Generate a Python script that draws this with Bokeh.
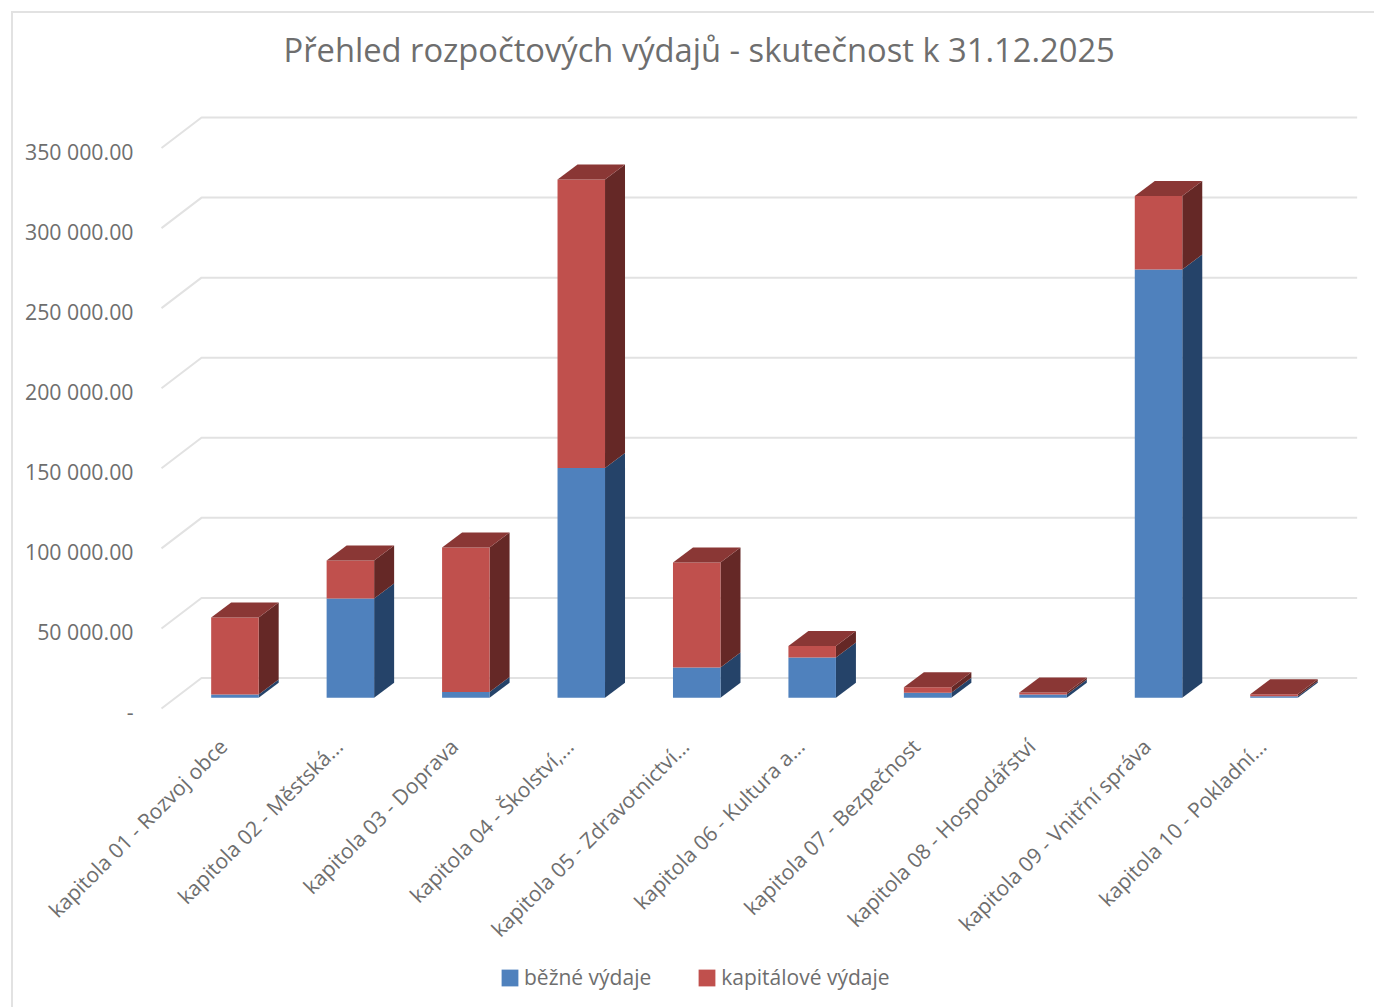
import math
from bokeh.embed import file_html
from bokeh.models import FixedTicker, Legend, LegendItem, LinearAxis, Range1d
from bokeh.plotting import figure
from bokeh.resources import INLINE

title_text = "Přehled rozpočtových výdajů - skutečnost k 31.12.2025"
categories = [
    "kapitola 01 - Rozvoj obce", "kapitola 02 - Městská...", "kapitola 03 - Doprava",
    "kapitola 04 - Školství,...", "kapitola 05 - Zdravotnictví...", "kapitola 06 - Kultura a...",
    "kapitola 07 - Bezpečnost", "kapitola 08 - Hospodářství", "kapitola 09 - Vnitřní správa",
    "kapitola 10 - Pokladní...",
]
bezne = [2100, 62000, 3600, 143500, 18900, 25200, 3100, 2100, 267400, 1000]
kapitalove = [48000, 23700, 90300, 180100, 65600, 7100, 3500, 1200, 45900, 1200]
y_ticks = [0, 50000, 100000, 150000, 200000, 250000, 300000, 350000]
y_labels = ["-", "50 000.00", "100 000.00", "150 000.00", "200 000.00", "250 000.00", "300 000.00", "350 000.00"]
series_names = ["běžné výdaje", "kapitálové výdaje"]

FONT = "Open Sans"
TXT = "#6e6e6e"
GRID = "#e2e2e2"
BLUE, BLUE_SIDE = "#4f81bd", "#254369"
RED, RED_SIDE, RED_TOP = "#c0504d", "#652826", "#8a3735"

# scale of the 3D projection
PX_X = 1 / 115.45
PX_Y = 50000 / 80.07
FRONT_Y = 3 * PX_Y          # front edge of the floor above the axis baseline
BAR_SHIFT_X = 15.7 * PX_X   # bars stand mid-depth on the floor
BAR_SHIFT_Y = 13.7 * PX_Y
BAR_W = 47.5 * PX_X
DEPTH_X = 20 * PX_X
DEPTH_Y = 15 * PX_Y
WALL_X = 40 * PX_X
WALL_Y = 30.5 * PX_Y

p = figure(
    frame_width=1361, frame_height=921, output_backend="svg", toolbar_location=None,
    x_range=Range1d(-0.5 - 148 * PX_X, -0.5 + 1213 * PX_X),
    y_range=Range1d(-296 * PX_Y, 625 * PX_Y),
    min_border_left=0, min_border_right=0, min_border_top=73, min_border_bottom=0,
    x_axis_type=None, y_axis_type=None,
    margin=(11, 0, 0, 11),
    styles={"border-top": f"2px solid {GRID}", "border-left": f"2px solid {GRID}", "box-sizing": "content-box"},
)
p.grid.visible = False
p.outline_line_color = None

# back wall gridlines with the floor/wall diagonals
x0 = -0.5
grid_xs, grid_ys = [], []
for t in y_ticks:
    yf = t + FRONT_Y
    grid_xs.append([x0, x0 + WALL_X, x0 + WALL_X + 10.01])
    grid_ys.append([yf, yf + WALL_Y, yf + WALL_Y])
p.multi_line(grid_xs, grid_ys, line_color=GRID, line_width=2)

bottoms_b = [BAR_SHIFT_Y] * len(bezne)
tops_b = [b + v for b, v in zip(bottoms_b, bezne)]
tops_r = [b + v for b, v in zip(tops_b, kapitalove)]
lefts = [i + BAR_SHIFT_X - BAR_W / 2 for i in range(len(bezne))]
rights = [l + BAR_W for l in lefts]


def side(bot, top):
    xs = [[r, r + DEPTH_X, r + DEPTH_X, r] for r in rights]
    ys = [[b, b + DEPTH_Y, t + DEPTH_Y, t] for b, t in zip(bot, top)]
    return xs, ys


xs, ys = side(bottoms_b, tops_b)
p.patches(xs, ys, fill_color=BLUE_SIDE, line_color=None)
r_blue = p.quad(left=lefts, right=rights, bottom=bottoms_b, top=tops_b, fill_color=BLUE, line_color=None)
xs, ys = side(tops_b, tops_r)
p.patches(xs, ys, fill_color=RED_SIDE, line_color=None)
r_red = p.quad(left=lefts, right=rights, bottom=tops_b, top=tops_r, fill_color=RED, line_color=None)
top_xs = [[l, r, r + DEPTH_X, l + DEPTH_X] for l, r in zip(lefts, rights)]
top_ys = [[t, t, t + DEPTH_Y, t + DEPTH_Y] for t in tops_r]
p.patches(top_xs, top_ys, fill_color=RED_TOP, line_color=None)

# axes
yax = LinearAxis(ticker=FixedTicker(ticks=y_ticks), major_label_overrides=dict(zip(y_ticks, y_labels)),
                 fixed_location=-0.5 - 6 * PX_X)
yax.axis_line_color = None
yax.major_tick_line_color = None
yax.minor_tick_line_color = None
yax.major_label_text_font = FONT
yax.major_label_text_font_size = "21.3px"
yax.major_label_text_color = TXT
yax.major_label_standoff = 16
p.add_layout(yax, "left")

TICK_SHIFT = 4 * PX_X
x_pos = [i + TICK_SHIFT for i in range(len(categories))]
xax = LinearAxis(ticker=FixedTicker(ticks=x_pos), major_label_overrides=dict(zip(x_pos, categories)), fixed_location=0)
xax.axis_line_color = None
xax.major_tick_line_color = None
xax.minor_tick_line_color = None
xax.major_label_text_font = FONT
xax.major_label_text_font_size = "21px"
xax.major_label_text_color = TXT
xax.major_label_orientation = math.pi / 4
xax.major_label_standoff = 25
p.add_layout(xax, "below")

# title
p.title.text = title_text
p.title.align = "left"
p.title.offset = 270
p.title.standoff = 25
p.title.vertical_align = "top"
p.title.text_font = FONT
p.title.text_font_size = "32.7px"
p.title.text_font_style = "normal"
p.title.text_color = TXT

legend = Legend(
    items=[LegendItem(label=series_names[0], renderers=[r_blue]), LegendItem(label=series_names[1], renderers=[r_red])],
    orientation="horizontal", location=(486, 16),
    background_fill_alpha=0, border_line_color=None, padding=0, margin=0,
    glyph_width=21, glyph_height=21, label_standoff=4, spacing=45,
    label_text_font=FONT, label_text_font_size="21px", label_text_color=TXT,
)
p.add_layout(legend, "center")

open("out.html", "w").write(file_html(p, INLINE))
